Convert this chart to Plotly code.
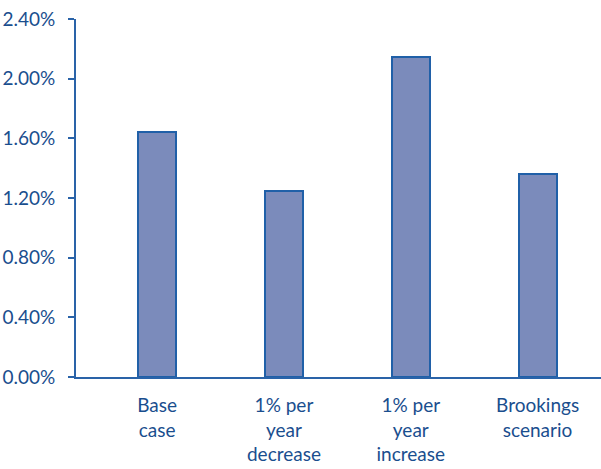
import plotly.graph_objects as go

# Scenario labels and annual rate values (percent)
scenarios = ["Base<br>case", "1% per<br>year<br>decrease", "1% per<br>year<br>increase", "Brookings<br>scenario"]
rates = [1.643, 1.249, 2.143, 1.361]
y_ticks = [0.0, 0.4, 0.8, 1.2, 1.6, 2.0, 2.4]
y_tick_text = ["0.00%", "0.40%", "0.80%", "1.20%", "1.60%", "2.00%", "2.40%"]

text_color = "#1a4e8e"
axis_color = "#2a63a8"

fig = go.Figure(
    go.Bar(
        x=list(range(len(scenarios))),
        y=rates,
        width=0.3,
        marker=dict(color="#7b8bbb", line=dict(color="#2060a8", width=2)),
    )
)

fig.update_layout(
    width=601,
    height=469,
    margin=dict(l=76, r=0, t=19, b=92),
    plot_bgcolor="white",
    paper_bgcolor="white",
    font=dict(family="Lato", color=text_color),
    showlegend=False,
    bargap=0,
)

fig.update_xaxes(
    range=[-0.64, 3.5],
    tickvals=list(range(len(scenarios))),
    ticktext=scenarios,
    tickfont=dict(size=19, color=text_color),
    showline=True,
    linecolor=axis_color,
    linewidth=2,
    ticks="",
    showgrid=False,
    zeroline=False,
    ticklabelstandoff=10,
)

fig.update_yaxes(
    range=[0, 2.4],
    tickvals=y_ticks,
    ticktext=y_tick_text,
    tickfont=dict(size=19, color=text_color),
    showline=True,
    linecolor=axis_color,
    linewidth=2,
    ticks="outside",
    ticklen=6,
    tickwidth=2,
    tickcolor=axis_color,
    showgrid=False,
    zeroline=False,
    ticklabelstandoff=9,
)

fig.write_html("out.html")
